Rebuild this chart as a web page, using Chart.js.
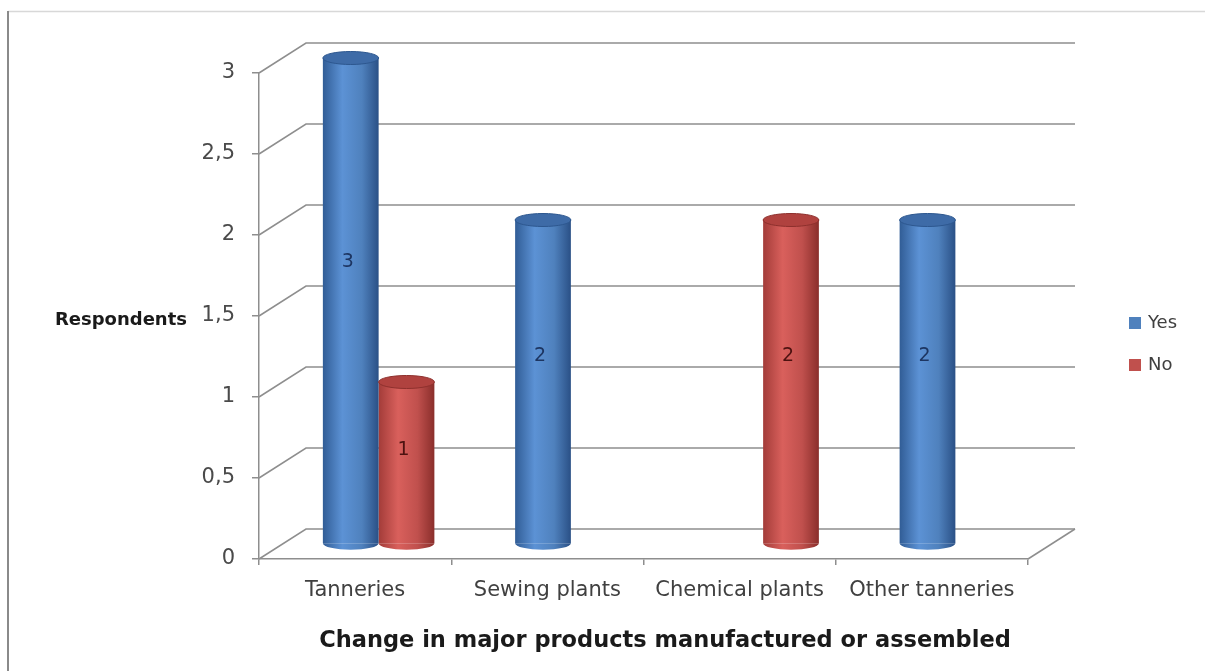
<!DOCTYPE html>
<html>
<head>
<meta charset="utf-8">
<script src="https://cdn.jsdelivr.net/npm/chart.js@4/dist/chart.umd.min.js"></script>
<style>
  html, body { margin: 0; padding: 0; background: #ffffff; }
  #wrap { width: 1205px; height: 671px; position: relative; }
</style>
</head>
<body>
<div id="wrap"><canvas id="c" width="1205" height="671"></canvas></div>
<script>
// Survey answers per plant type
const categories = ['Tanneries', 'Sewing plants', 'Chemical plants', 'Other tanneries'];
const yesValues = [3, 2, 0, 2];
const noValues = [1, 0, 2, 0];
const seriesNames = ['Yes', 'No'];
const axisMax = 3;
const axisStep = 0.5;
const yAxisTitle = 'Respondents';
const xAxisTitle = 'Change in major products manufactured or assembled';

// Depth of the 3-D box (back wall offset from the front plane)
const DEPTH_X = 47;
const DEPTH_Y = -30;
const GRID_COLOR = '#8e8e8e';
const FONT = '"DejaVu Sans", sans-serif';

const palette = [
  { base: '#4f81bd', edge: '#315d96', light: '#5c92d5', dark: '#2a5086', cap: '#3e6ba7', capEdge: '#2d578f', text: '#1d3561' },
  { base: '#c0504d', edge: '#a33c39', light: '#d9605c', dark: '#8a2e2b', cap: '#b0423f', capEdge: '#8e302d', text: '#4d1210' }
];

// Frame around the chart
const framePlugin = {
  id: 'frame',
  beforeDraw(chart) {
    const ctx = chart.ctx;
    ctx.save();
    ctx.fillStyle = '#ffffff';
    ctx.fillRect(0, 0, chart.width, chart.height);
    ctx.strokeStyle = '#d8d8d8';
    ctx.lineWidth = 1.5;
    ctx.beginPath();
    ctx.moveTo(8, 11.5);
    ctx.lineTo(chart.width, 11.5);
    ctx.stroke();
    ctx.strokeStyle = '#8a8a8a';
    ctx.lineWidth = 2;
    ctx.beginPath();
    ctx.moveTo(8, 11);
    ctx.lineTo(8, chart.height);
    ctx.stroke();
    ctx.restore();
  }
};

// Side-wall and back-wall gridlines, cylinder shading, caps and value labels
const cylinderPlugin = {
  id: 'cylinders',
  beforeDatasetsDraw(chart) {
    const ctx = chart.ctx;
    const ys = chart.scales.y;
    const area = chart.chartArea;
    ctx.save();
    ctx.strokeStyle = GRID_COLOR;
    ctx.lineWidth = 1.5;
    ys.ticks.forEach(t => {
      const yF = ys.getPixelForValue(t.value);
      ctx.beginPath();
      ctx.moveTo(area.left, yF);
      ctx.lineTo(area.left + DEPTH_X, yF + DEPTH_Y);
      ctx.lineTo(area.right + DEPTH_X, yF + DEPTH_Y);
      ctx.stroke();
    });
    // right edge of the floor
    ctx.beginPath();
    ctx.moveTo(area.right, area.bottom);
    ctx.lineTo(area.right + DEPTH_X, area.bottom + DEPTH_Y);
    ctx.stroke();
    ctx.restore();

    // horizontal shading across each cylinder
    chart.data.datasets.forEach((ds, di) => {
      const meta = chart.getDatasetMeta(di);
      const p = palette[di];
      meta.data.forEach(el => {
        const l = el.x - el.width / 2, r = el.x + el.width / 2;
        const g = ctx.createLinearGradient(l, 0, r, 0);
        g.addColorStop(0, p.edge);
        g.addColorStop(0.35, p.light);
        g.addColorStop(0.7, p.base);
        g.addColorStop(1, p.dark);
        el.options = Object.assign({}, el.options, { backgroundColor: g });
      });
    });

    // cylinders stand half-way into the depth of the box
    ctx.save();
    ctx.translate(DEPTH_X / 2, DEPTH_Y / 2);
  },
  afterDatasetsDraw(chart) {
    const ctx = chart.ctx;
    const ry = 6.5;
    chart.data.datasets.forEach((ds, di) => {
      const meta = chart.getDatasetMeta(di);
      const p = palette[di];
      meta.data.forEach((el, i) => {
        const v = ds.data[i];
        if (!v) return;
        const rx = el.width / 2;
        // rounded bottom
        ctx.beginPath();
        ctx.ellipse(el.x, el.base, rx, ry, 0, 0, Math.PI);
        ctx.closePath();
        ctx.fillStyle = el.options.backgroundColor;
        ctx.fill();
        // top cap
        ctx.beginPath();
        ctx.ellipse(el.x, el.y, rx, ry, 0, 0, Math.PI * 2);
        ctx.fillStyle = p.cap;
        ctx.fill();
        ctx.lineWidth = 1;
        ctx.strokeStyle = p.capEdge;
        ctx.stroke();
        // value label
        ctx.font = '19px ' + FONT;
        ctx.fillStyle = p.text;
        ctx.textAlign = 'center';
        ctx.textBaseline = 'middle';
        ctx.fillText(String(v), el.x - 3, el.y + 0.42 * (el.base - el.y));
      });
    });
    ctx.restore();
  }
};

// Axis titles and legend
const textPlugin = {
  id: 'texts',
  afterDraw(chart) {
    const ctx = chart.ctx;
    const ys = chart.scales.y;
    const area = chart.chartArea;
    ctx.save();
    ctx.fillStyle = '#1a1a1a';
    ctx.textBaseline = 'middle';
    ctx.font = 'bold 18px ' + FONT;
    ctx.textAlign = 'right';
    ctx.fillText(yAxisTitle, 187, ys.getPixelForValue(1.5) + 4);

    ctx.font = 'bold 22.5px ' + FONT;
    ctx.textAlign = 'center';
    ctx.fillText(xAxisTitle, (area.left + area.right + DEPTH_X) / 2 - 2, 641);

    // legend
    ctx.font = '18px ' + FONT;
    ctx.textAlign = 'left';
    chart.data.datasets.forEach((ds, di) => {
      const yc = 323 + di * 42;
      ctx.fillStyle = palette[di].base;
      ctx.fillRect(1129, yc - 6, 12, 12);
      ctx.fillStyle = '#404040';
      ctx.fillText(ds.label, 1148, yc);
    });
    ctx.restore();
  }
};

new Chart(document.getElementById('c'), {
  type: 'bar',
  data: {
    labels: categories,
    datasets: [
      { label: seriesNames[0], data: yesValues, backgroundColor: palette[0].base, borderWidth: 0 },
      { label: seriesNames[1], data: noValues, backgroundColor: palette[1].base, borderWidth: 0 }
    ]
  },
  options: {
    responsive: false,
    animation: false,
    events: [],
    categoryPercentage: 0.58,
    barPercentage: 1.0,
    layout: { padding: { left: 0, right: 177, top: 73, bottom: 0 } },
    plugins: {
      legend: { display: false },
      tooltip: { enabled: false }
    },
    scales: {
      x: {
        offset: true,
        afterFit(scale) { scale.height = 112; },
        grid: { display: true, drawOnChartArea: false, drawTicks: true, tickLength: 6, offset: true, color: GRID_COLOR, lineWidth: 1.5 },
        border: { display: true, color: GRID_COLOR, width: 1.5 },
        ticks: { color: '#404040', font: { family: FONT, size: 21 }, padding: 13, maxRotation: 0, autoSkip: false }
      },
      y: {
        min: 0,
        max: axisMax,
        afterFit(scale) { scale.width = 259; },
        grid: { display: true, drawOnChartArea: false, drawTicks: true, tickLength: 7, color: GRID_COLOR, lineWidth: 1.5 },
        border: { display: true, color: GRID_COLOR, width: 1.5 },
        ticks: {
          stepSize: axisStep,
          color: '#4a4a4a',
          font: { family: FONT, size: 21 },
          padding: 17,
          callback: v => String(v).replace('.', ',')
        }
      }
    }
  },
  plugins: [framePlugin, cylinderPlugin, textPlugin]
});
</script>
</body>
</html>
